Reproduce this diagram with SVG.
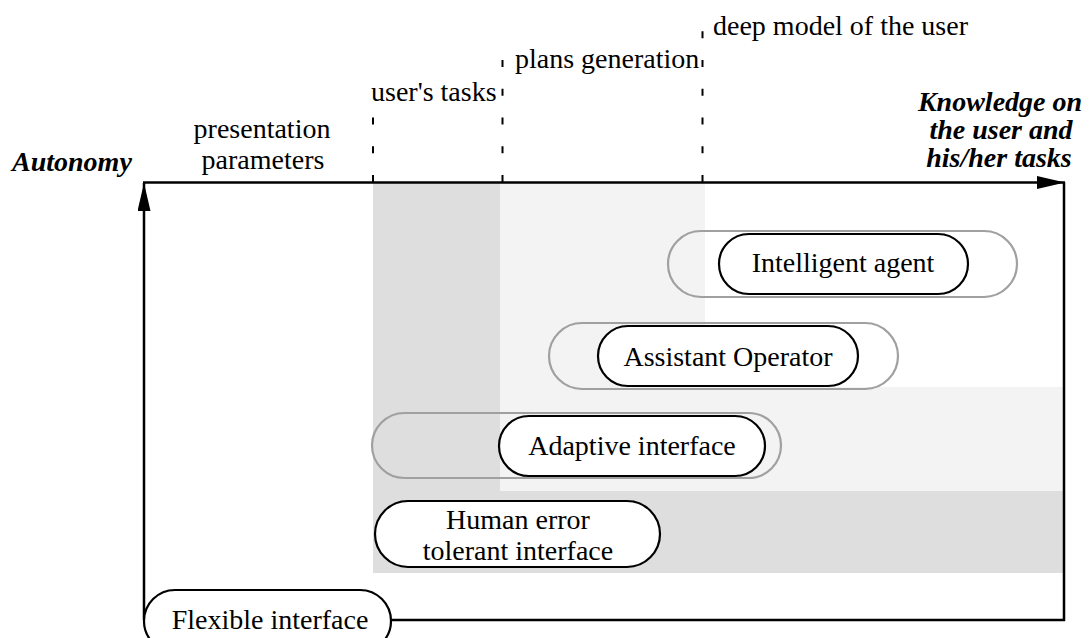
<svg xmlns="http://www.w3.org/2000/svg" width="1090" height="638" viewBox="0 0 1090 638">
<style>
text{font-family:"Liberation Serif","Times New Roman",serif;font-size:28px;fill:#000}
.bi{font-weight:bold;font-style:italic}
.mid{text-anchor:middle}
.axis{stroke:#000;stroke-width:2.5;fill:none}
.tick{stroke:#000;stroke-width:2;stroke-dasharray:7 21.75;fill:none}
.outer{fill:none;stroke:#a0a0a0;stroke-width:2.2}
.inner{fill:#fff;stroke:#000;stroke-width:2.2}
.dark{fill:#dedede}
.light{fill:#f3f3f3}
</style>
<defs>
<marker id="ah" markerUnits="userSpaceOnUse" markerWidth="30" markerHeight="14" refX="28" refY="6.5" orient="auto">
<path d="M0,0 L28,6.5 L0,13 z" fill="#000"/>
</marker>
</defs>
<rect width="1090" height="638" fill="#fff"/>
<g id="shading">
<rect class="light" x="500" y="183" width="205" height="308"/>
<rect class="light" x="705" y="387" width="359" height="104"/>
<rect class="dark" x="373" y="183" width="127" height="390"/>
<rect class="dark" x="373" y="491" width="691" height="82"/>
</g>
<g id="connectors">
<line class="tick" x1="373" y1="182" x2="373" y2="112"/>
<line class="tick" x1="502.5" y1="182" x2="502.5" y2="55"/>
<line class="tick" x1="702.5" y1="182" x2="702.5" y2="28"/>
<line class="axis" x1="143" y1="182.5" x2="1065" y2="182.5" marker-end="url(#ah)"/>
<line class="axis" x1="1064" y1="182" x2="1064" y2="621"/>
<line class="axis" x1="391" y1="620" x2="1065" y2="620"/>
<line class="axis" x1="144" y1="620" x2="144" y2="183" marker-end="url(#ah)"/>
</g>
<g id="labels">
<text class="bi" x="12" y="171">Autonomy</text>
<text class="mid" x="262" y="138">presentation</text>
<text class="mid" x="263" y="169">parameters</text>
<text x="371" y="101">user's tasks</text>
<text x="515" y="68">plans generation</text>
<text x="713" y="35">deep model of the user</text>
<text class="bi mid" x="1000" y="111">Knowledge on</text>
<text class="bi mid" x="1001" y="139">the user and</text>
<text class="bi mid" x="999" y="167">his/her tasks</text>
</g>
<g id="intelligent-agent">
<rect class="outer" x="668" y="231" width="349" height="66" rx="33"/>
<rect class="inner" x="719" y="234" width="249" height="60" rx="30"/>
<text class="mid" x="843" y="272">Intelligent agent</text>
</g>
<g id="assistant-operator">
<rect class="outer" x="549" y="323" width="349" height="66" rx="33"/>
<rect class="inner" x="598" y="326" width="260" height="60" rx="30"/>
<text class="mid" x="728" y="366">Assistant Operator</text>
</g>
<g id="adaptive-interface">
<rect class="outer" x="372" y="413" width="409" height="65" rx="32.5"/>
<rect class="inner" x="499" y="416" width="266" height="60" rx="30"/>
<text class="mid" x="632" y="455">Adaptive interface</text>
</g>
<g id="human-error-tolerant-interface">
<rect class="inner" x="375" y="501" width="285" height="66" rx="33"/>
<text class="mid" x="518" y="529">Human error</text>
<text class="mid" x="518" y="560">tolerant interface</text>
</g>
<g id="flexible-interface">
<rect class="inner" x="144" y="590" width="247" height="62" rx="31"/>
<text class="mid" x="270" y="629">Flexible interface</text>
</g>
</svg>
